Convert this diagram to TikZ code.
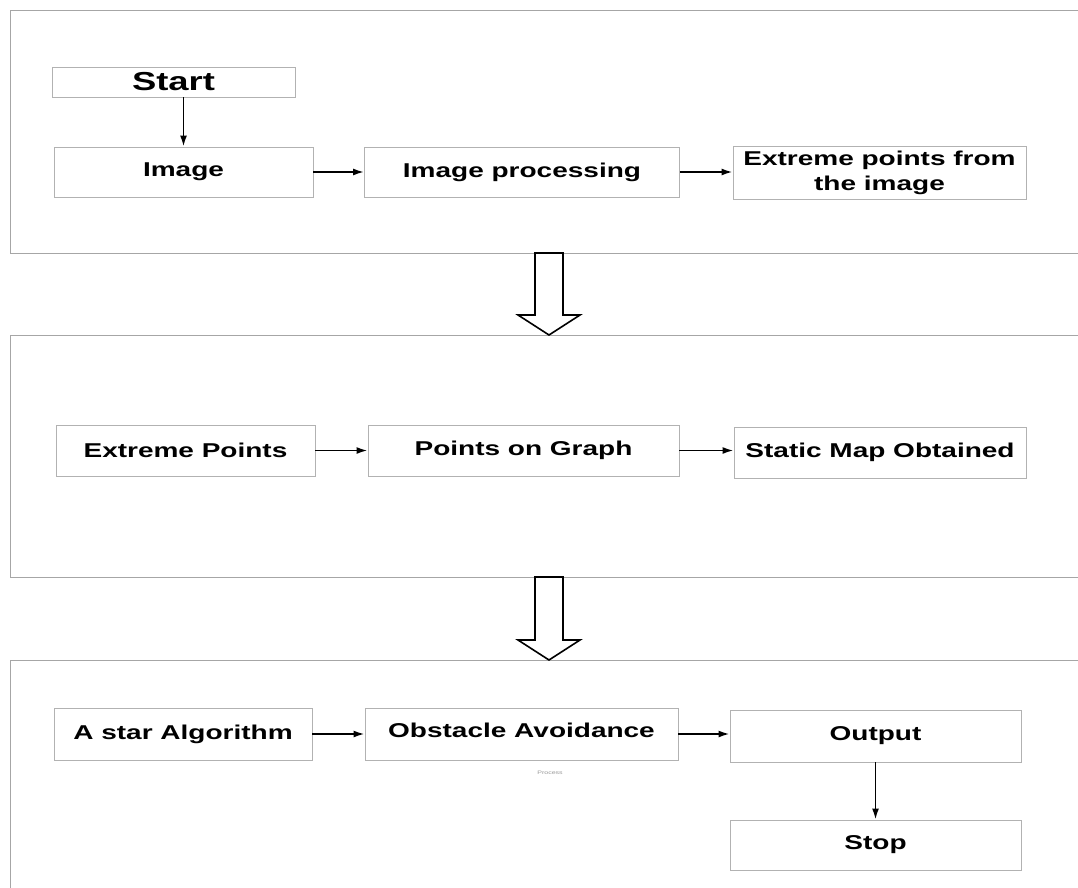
\documentclass[tikz,border=0pt]{standalone}
\usepackage{fontspec}
\setmainfont{Liberation Sans}[FakeStretch=1.4]
\usetikzlibrary{arrows.meta,calc}
\begin{document}
\begin{tikzpicture}[x=1pt,y=-1pt,
  panel/.style={draw=black!35, line width=1pt},
  box/.style={draw=black!30, line width=0.9pt, inner sep=0pt, align=center,
    font=\fontsize{20}{25}\selectfont\bfseries},
  arr/.style={-{Latex[length=11pt,width=7pt]}, line width=1.8pt},
  hollow/.style={draw=black, line width=1.6pt, fill=white, line join=miter}]
\useasboundingbox (0,0) rectangle (1078,888);
\fill[white] (0,0) rectangle (1078,888);
% panels
\draw[panel] (1078,11) -- (10,11) -- (10,253) -- (1078,253);
\draw[panel] (1078,335) -- (10,335) -- (10,577) -- (1078,577);
\draw[panel] (1078,660) -- (10,660) -- (10,888);
\coordinate (p1b) at (549,253);
\coordinate (p2t) at (549,335);
\coordinate (p2b) at (549,577);
\coordinate (p3t) at (549,660);
% hollow arrows between panels
\draw[hollow] ($(p1b)+(-14,0)$) -- ($(p2t)+(-14,-20)$) -- ($(p2t)+(-31,-20)$) -- (p2t)
  -- ($(p2t)+(31,-20)$) -- ($(p2t)+(14,-20)$) -- ($(p1b)+(14,0)$) -- cycle;
\draw[hollow] ($(p2b)+(-14,0)$) -- ($(p3t)+(-14,-20)$) -- ($(p3t)+(-31,-20)$) -- (p3t)
  -- ($(p3t)+(31,-20)$) -- ($(p3t)+(14,-20)$) -- ($(p2b)+(14,0)$) -- cycle;
% panel 1
\node[box, minimum width=243pt, minimum height=30pt, font=\fontsize{26}{30}\selectfont\bfseries] (start) at (173.5,82) {Start};
\node[box, minimum width=259pt, minimum height=50pt] (image) at (183.5,172) {Image};
\node[box, minimum width=315pt, minimum height=50pt] (improc) at (522,172) {Image processing};
\node[box, minimum width=293pt, minimum height=53pt] (extimg) at (879.5,172.5) {Extreme points from\\the image};
% panel 2
\node[box, minimum width=259pt, minimum height=51pt] (ep) at (185.5,450.5) {Extreme Points};
\node[box, minimum width=311pt, minimum height=51pt] (pg) at (523.5,450.5) {Points on Graph};
\node[box, minimum width=292pt, minimum height=51pt] (sm) at (880,452.5) {Static Map Obtained};
% panel 3
\node[box, minimum width=258pt, minimum height=52pt] (astar) at (183,734) {A star Algorithm};
\node[box, minimum width=313pt, minimum height=52pt, text depth=8pt] (oa) at (521.5,734) {Obstacle Avoidance};
\node[box, minimum width=291pt, minimum height=52pt] (out) at (875.5,736) {Output};
\node[box, minimum width=291pt, minimum height=50pt] (stop) at (875.5,845) {Stop};
\node[font=\fontsize{5}{6}\selectfont, text=black!40] (proc) at (550,773) {Process};
% connectors
\draw[arr] (image.north |- start.south) -- (image.north);
\draw[arr] (image.east) -- (improc.west);
\draw[arr] (improc.east) -- (improc.east -| extimg.west);
\draw[arr] (ep.east) -- (pg.west);
\draw[arr] (pg.east) -- (pg.east -| sm.west);
\draw[arr] (astar.east) -- (oa.west);
\draw[arr] (oa.east) -- (oa.east -| out.west);
\draw[arr] (out.south) -- (stop.north);
\end{tikzpicture}
\end{document}
